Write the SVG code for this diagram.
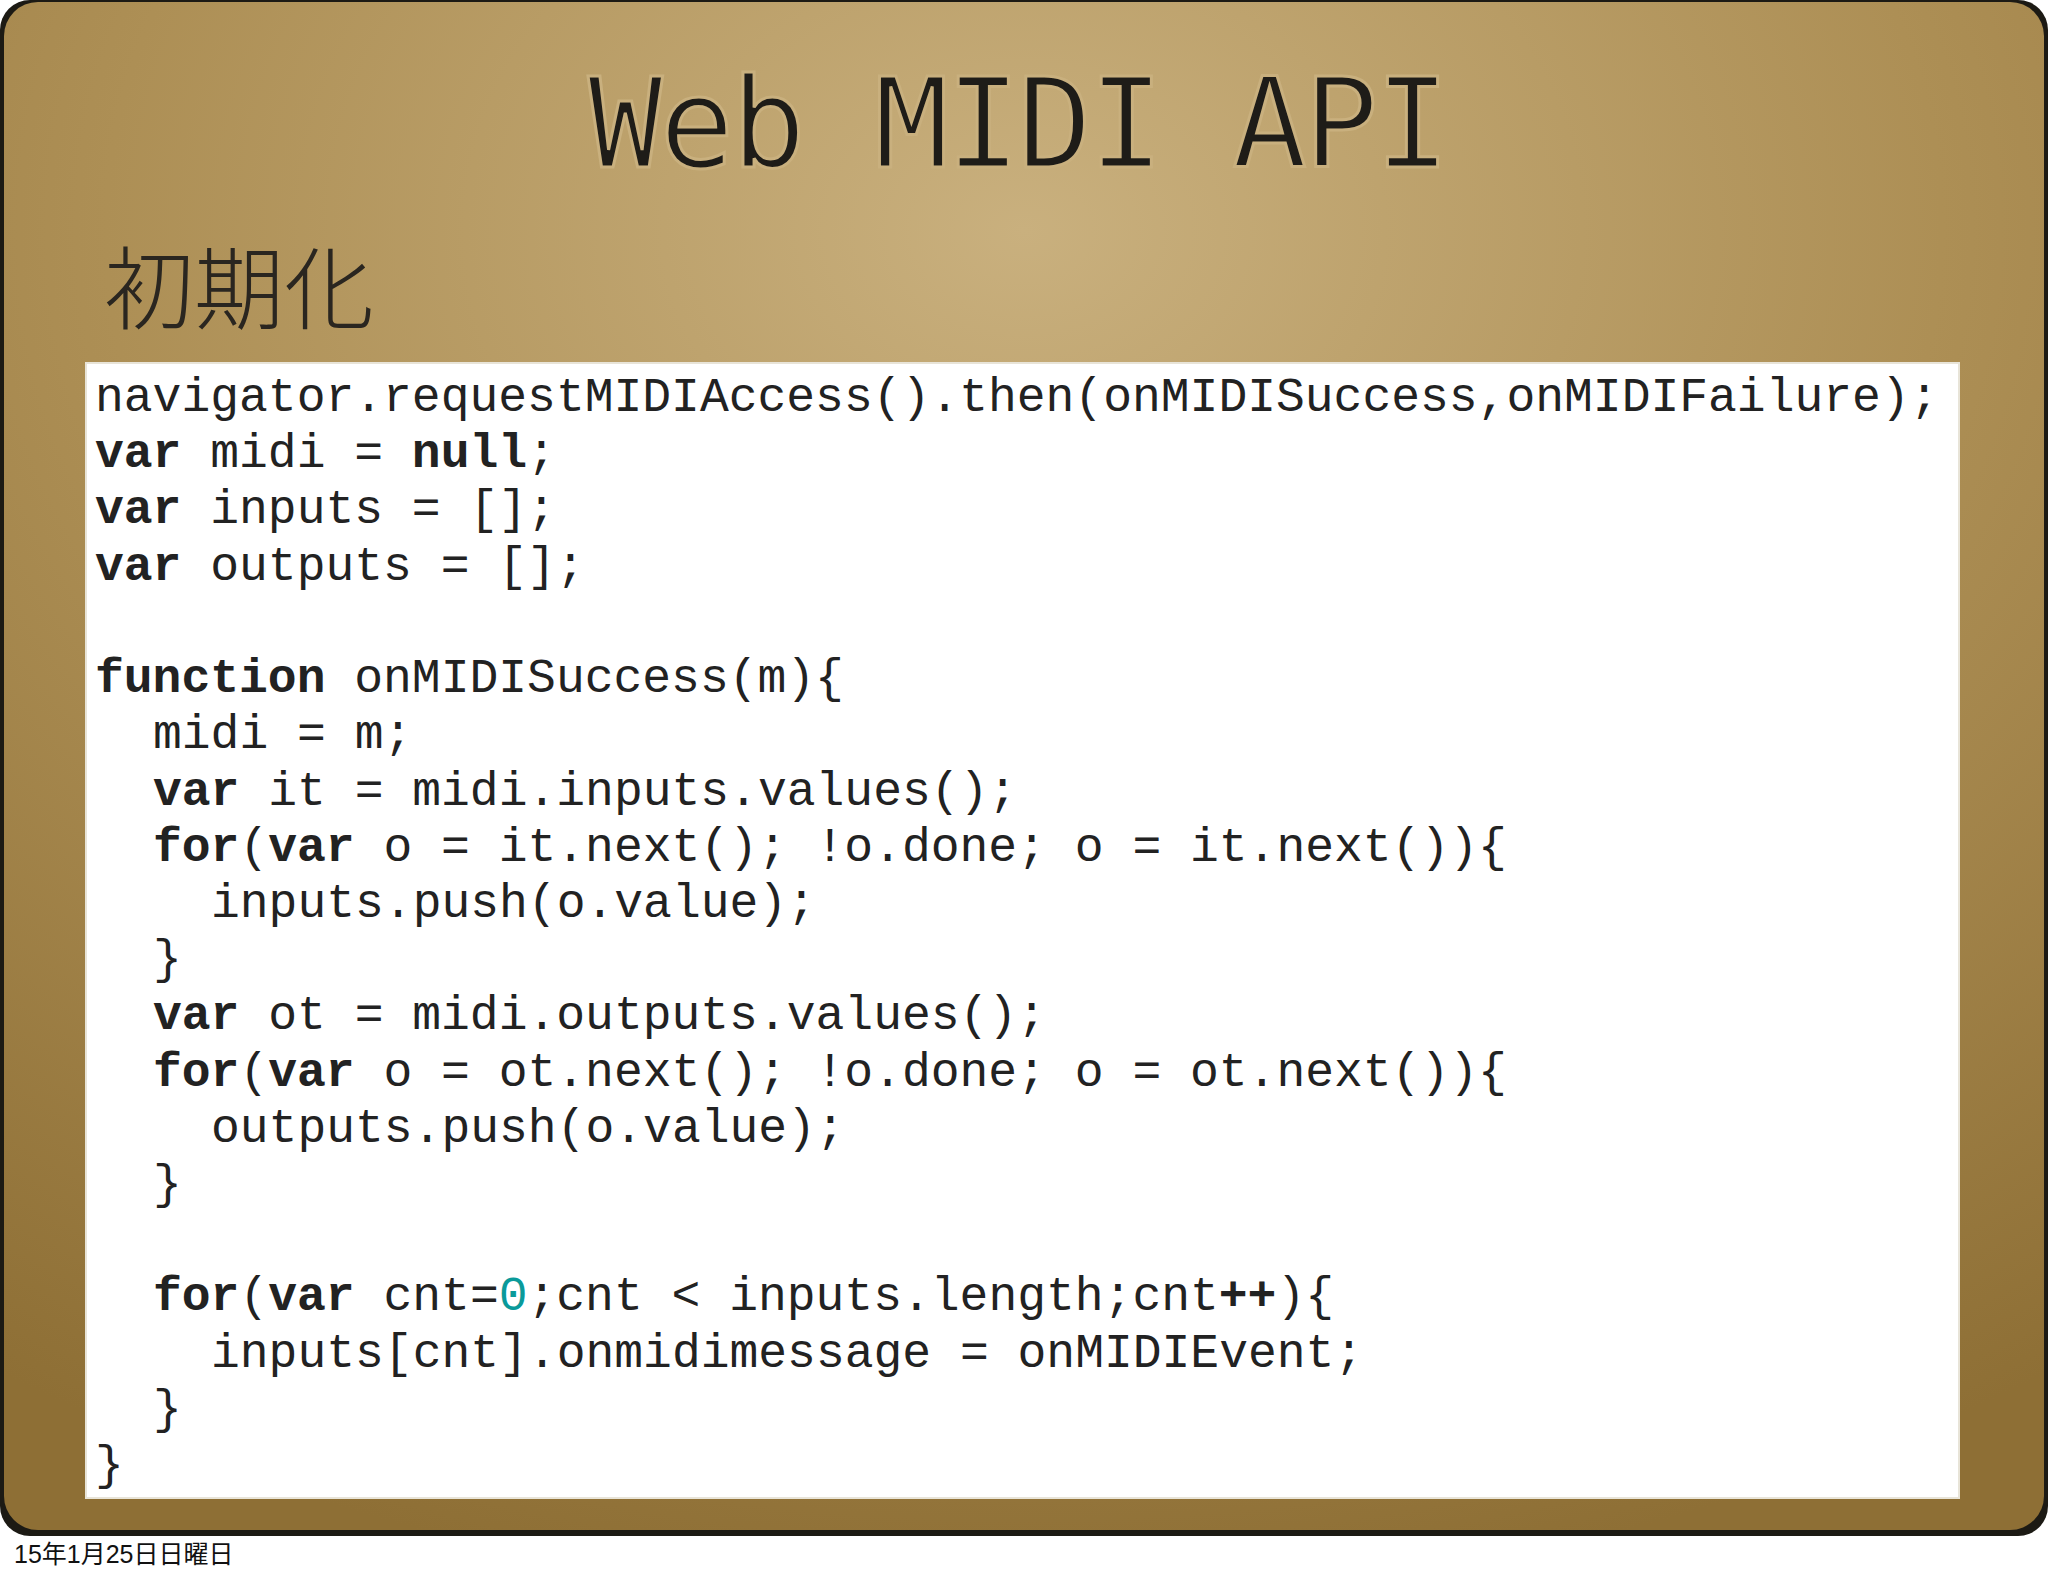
<svg xmlns="http://www.w3.org/2000/svg" width="2048" height="1576" viewBox="0 0 2048 1576">
<defs>
<radialGradient id="bg" cx="0.5" cy="0.15" r="0.9">
<stop offset="0" stop-color="#c9b07e"/>
<stop offset="0.5" stop-color="#ad8f55"/>
<stop offset="1" stop-color="#8e6f35"/>
</radialGradient>
<style>
.c{font-family:"Liberation Mono","DejaVu Sans Mono",monospace;font-size:48px;fill:#222;}
.b{font-weight:bold;}
.n{fill:#0a9a9a;}
</style>
</defs>
<rect width="2048" height="1576" fill="#fff"/>
<rect x="0" y="0" width="2048" height="1536" rx="30" fill="#1c1a14"/>
<rect x="4" y="2" width="2040" height="1528" rx="34" fill="url(#bg)"/>
<text x="1019" y="167" text-anchor="middle" font-family="'DejaVu Sans Mono',monospace" font-size="124" fill="#1e1c18" stroke="#c9b07e" stroke-width="3" textLength="862">Web MIDI API</text>
<text x="104" y="322" font-family="'Noto Sans CJK JP',sans-serif" font-weight="300" font-size="90" fill="#2a2620">初期化</text>
<g id="code">
<rect x="86" y="363" width="1873" height="1135" fill="#fff" stroke="#e8e4d8" stroke-width="2"/>
<g class="c">
<text x="95" y="411">navigator.requestMIDIAccess().then(onMIDISuccess,onMIDIFailure);</text>
<text x="95" y="467"><tspan class="b">var</tspan> midi = <tspan class="b">null</tspan>;</text>
<text x="95" y="523"><tspan class="b">var</tspan> inputs = [];</text>
<text x="95" y="580"><tspan class="b">var</tspan> outputs = [];</text>
<text x="95" y="692"><tspan class="b">function</tspan> onMIDISuccess(m){</text>
<text x="153" y="748">midi = m;</text>
<text x="153" y="805"><tspan class="b">var</tspan> it = midi.inputs.values();</text>
<text x="153" y="861"><tspan class="b">for</tspan>(<tspan class="b">var</tspan> o = it.next(); !o.done; o = it.next()){</text>
<text x="211" y="917">inputs.push(o.value);</text>
<text x="153" y="973">}</text>
<text x="153" y="1029"><tspan class="b">var</tspan> ot = midi.outputs.values();</text>
<text x="153" y="1086"><tspan class="b">for</tspan>(<tspan class="b">var</tspan> o = ot.next(); !o.done; o = ot.next()){</text>
<text x="211" y="1142">outputs.push(o.value);</text>
<text x="153" y="1198">}</text>
<text x="153" y="1310"><tspan class="b">for</tspan>(<tspan class="b">var</tspan> cnt=<tspan class="n">0</tspan>;cnt &lt; inputs.length;cnt<tspan class="b">++</tspan>){</text>
<text x="211" y="1367">inputs[cnt].onmidimessage = onMIDIEvent;</text>
<text x="153" y="1423">}</text>
<text x="95" y="1479">}</text>
</g>
</g>
<text x="14" y="1563" font-family="'Liberation Sans','Noto Sans CJK JP',sans-serif" font-size="25" fill="#111">15年1月25日日曜日</text>
</svg>
